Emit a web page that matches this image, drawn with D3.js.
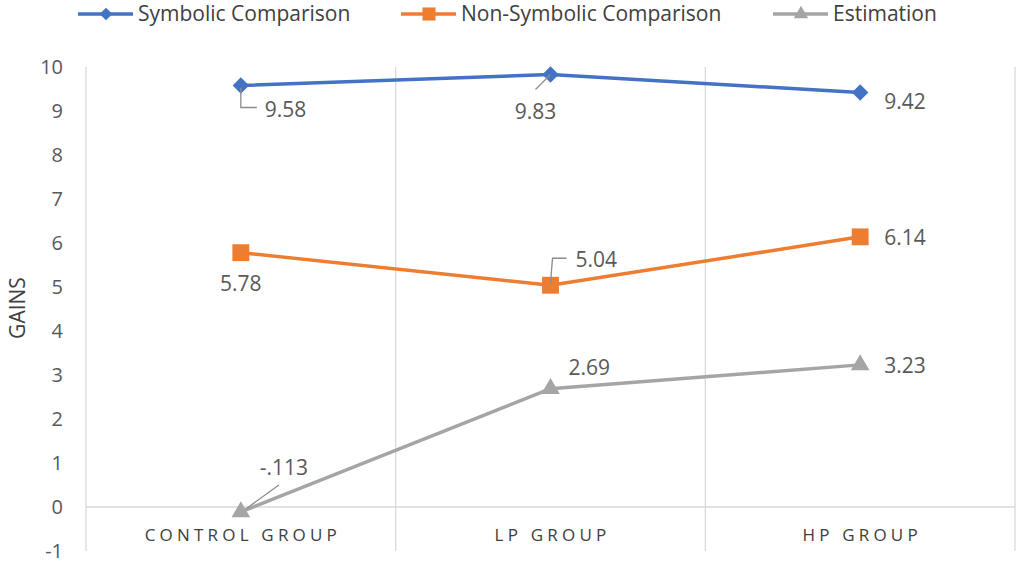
<!DOCTYPE html>
<html>
<head>
  <meta charset="utf-8">
  <title>Gains by group</title>
  <script src="https://d3js.org/d3.v7.min.js"></script>
  <style>
    body { margin: 0; background: #fff; }
    svg { font-family: "Open Sans", sans-serif; }
    .tick text { fill: #595959; font-size: 20px; font-family: "Open Sans", sans-serif; }
    .grid line { stroke: #d9d9d9; stroke-width: 1.3; }
    .dlabel { fill: #595959; font-size: 21px; }
    .leader { stroke: #8c8c8c; stroke-width: 1.3; fill: none; }
  </style>
</head>
<body>
<script>
var groups = ["CONTROL GROUP", "LP GROUP", "HP GROUP"];
var symbolic = [9.58, 9.83, 9.42];
var nonSymbolic = [5.78, 5.04, 6.14];
var estimation = [-0.113, 2.69, 3.23];
var valueLabels = [["9.58", "9.83", "9.42"], ["5.78", "5.04", "6.14"], ["-.113", "2.69", "3.23"]];
var yTicks = [-1, 0, 1, 2, 3, 4, 5, 6, 7, 8, 9, 10];

var width = 1020, height = 563;

var series = [
  { name: "Symbolic Comparison", values: symbolic, color: "#4472C4", symbol: d3.symbolSquare, rot: 45, size: 135 },
  { name: "Non-Symbolic Comparison", values: nonSymbolic, color: "#ED7D31", symbol: d3.symbolSquare, rot: 0, size: 285 },
  { name: "Estimation", values: estimation, color: "#A5A5A5", symbol: d3.symbolTriangle, rot: 0, size: 150 }
];

// label placement relative to each point: [dx, dy, anchor, leader path]
var labelPos = [
  [[24, 24, "start", [[0, 2], [0, 22], [16, 22]]], [-15, 37, "middle", [[0, 0], [-15, 15]]], [24, 9, "start", null]],
  [[0, 31, "middle", null], [25, -26, "start", [[0, -2], [2, -27], [16, -27]]], [24, 1, "start", null]],
  [[43, -44, "middle", [[5, -3], [38, -27]]], [18, -21, "start", null], [24, 1, "start", null]]
];

var svg = d3.select("body").append("svg")
  .attr("width", width)
  .attr("height", height);

var x = d3.scaleBand().domain(groups).range([86, 1015]);
var y = d3.scaleLinear().domain([-1, 10]).range([551, 67]);

// vertical gridlines at band edges
var edges = groups.map(function(g) { return x(g); }).concat([x.range()[1]]);
svg.append("g").attr("class", "grid")
  .selectAll("line")
  .data(edges)
  .enter()
  .append("line")
    .attr("x1", d => d).attr("x2", d => d)
    .attr("y1", y(10)).attr("y2", y(-1));

// zero line
svg.append("line")
  .attr("x1", x.range()[0]).attr("x2", x.range()[1])
  .attr("y1", y(0)).attr("y2", y(0))
  .attr("stroke", "#d9d9d9").attr("stroke-width", 1.3);

// y axis
var yAxis = svg.append("g")
  .attr("transform", "translate(70,0)")
  .call(d3.axisLeft(y).tickValues(yTicks).tickSize(0).tickPadding(7).tickFormat(d => String(d)));
yAxis.select(".domain").remove();

// category labels
svg.append("g")
  .selectAll("text")
  .data(groups)
  .enter()
  .append("text")
    .attr("x", d => x(d) + x.bandwidth() / 2 + 2)
    .attr("y", 541)
    .attr("text-anchor", "middle")
    .attr("fill", "#404040")
    .style("font-size", "17px")
    .style("letter-spacing", "4.2px")
    .text(d => d);

// y title
svg.append("text")
  .attr("transform", "translate(25,308) rotate(-90)")
  .attr("text-anchor", "middle")
  .attr("fill", "#404040")
  .style("font-size", "21px")
  .text("GAINS");

var line = d3.line()
  .x((d, i) => x(groups[i]) + x.bandwidth() / 2)
  .y(d => y(d));

series.forEach(function(s, si) {
  var g = svg.append("g");
  g.append("path")
    .datum(s.values)
    .attr("d", line)
    .attr("fill", "none")
    .attr("stroke", s.color)
    .attr("stroke-width", 3.5);

  g.selectAll(".mark")
    .data(s.values)
    .enter()
    .append("path")
      .attr("class", "mark")
      .attr("transform", (d, i) => "translate(" + (x(groups[i]) + x.bandwidth() / 2) + "," + y(d) + ") rotate(" + s.rot + ")")
      .attr("d", d3.symbol().type(s.symbol).size(s.size))
      .attr("fill", s.color);

  s.values.forEach(function(v, i) {
    var px = x(groups[i]) + x.bandwidth() / 2, py = y(v);
    var p = labelPos[si][i];
    if (p[3]) {
      g.append("path")
        .attr("class", "leader")
        .attr("d", d3.line()(p[3].map(q => [px + q[0], py + q[1]])));
    }
    g.append("text")
      .attr("class", "dlabel")
      .attr("x", px + p[0])
      .attr("y", py + p[1])
      .attr("dy", "0.35em")
      .attr("text-anchor", p[2])
      .text(valueLabels[si][i]);
  });
});

// legend
var legendX = [78, 401, 773];
var legend = svg.append("g");
series.forEach(function(s, i) {
  var lg = legend.append("g").attr("transform", "translate(" + legendX[i] + ",14)");
  lg.append("line")
    .attr("x1", 0).attr("x2", 55)
    .attr("stroke", s.color).attr("stroke-width", 3.5);
  lg.append("path")
    .attr("transform", "translate(28,0) rotate(" + s.rot + ")")
    .attr("d", d3.symbol().type(s.symbol).size(s.size * 0.6))
    .attr("fill", s.color);
  lg.append("text")
    .attr("x", 60)
    .attr("dy", "0.35em")
    .attr("fill", "#404040")
    .style("font-size", "21px")
    .text(s.name);
});
</script>
</body>
</html>
